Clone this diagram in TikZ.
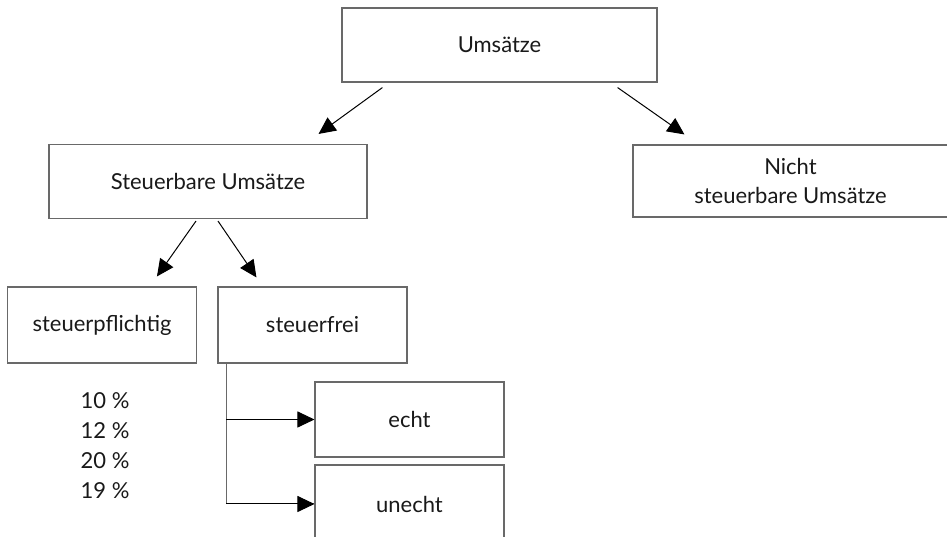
\documentclass[tikz,border=0pt]{standalone}
\usepackage{fontspec}
\setmainfont{Lato}
\usepackage{tikz}
\usetikzlibrary{arrows.meta, positioning, calc}
\definecolor{BoxLine}{RGB}{105, 105, 105}
\definecolor{TextDark}{RGB}{25, 25, 25}

\begin{document}
\begin{tikzpicture}[x=1pt,y=1pt,
    box/.style={draw=BoxLine, line width=1.1pt, minimum height=74pt, inner sep=0pt,
                align=center, text=TextDark, font=\fontsize{22}{29}\selectfont},
    link/.style={line width=1pt, -{Triangle[length=17pt,width=16pt]}}]
  \path[use as bounding box] (0,0) rectangle (947,537);

  % top level
  \node[box, minimum width=315pt] (umsatz) at (499.5,492) {Umsätze};
  \node[box, minimum width=318pt] (steuerbar) at (208,355.5) {Steuerbare Umsätze};
  \node[box, minimum width=315pt, minimum height=72pt] (nichtst) at (790.5,356)
    {Nicht\\steuerbare Umsätze};

  \draw[link] ([xshift=41pt,yshift=-5pt]umsatz.south west) -- ([xshift=-49pt,yshift=10pt]steuerbar.north east);
  \draw[link] ([xshift=-40pt,yshift=-5pt]umsatz.south east) -- ([xshift=52pt,yshift=10pt]nichtst.north west);

  % second level
  \node[box, minimum width=189pt, minimum height=76pt] (pflichtig) at (102,212) {steuerpflichtig};
  \node[box, minimum width=189pt, minimum height=76pt] (frei) at (312.5,212) {steuerfrei};

  \draw[link] ([xshift=-12pt,yshift=-2pt]steuerbar.south) -- ([xshift=150pt,yshift=10pt]pflichtig.north west);
  \draw[link] ([xshift=10pt,yshift=-2pt]steuerbar.south) -- ([xshift=39pt,yshift=9pt]frei.north west);

  % rates
  \node[text=TextDark, align=center, font=\fontsize{22}{30}\selectfont] (saetze) at (105,91)
    {10 \%\\12 \%\\20 \%\\19 \%};

  % exemptions
  \node[box, minimum width=189pt, minimum height=75pt] (echt) at (409.5,117.5) {echt};
  \node[box, minimum width=189pt, minimum height=78pt] (unecht) at (409.5,33) {unecht};

  \coordinate (ast) at ([xshift=9pt]frei.south west);
  \draw[BoxLine, line width=1pt] (ast) |- (unecht.west);
  \draw[link] (ast |- echt.west) -- (echt.west);
  \draw[link] (ast |- unecht.west) -- (unecht.west);
\end{tikzpicture}
\end{document}
